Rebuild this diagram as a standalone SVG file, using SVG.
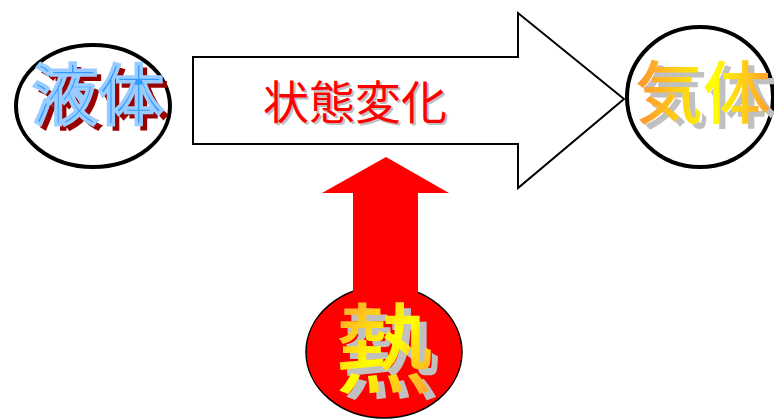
<svg xmlns="http://www.w3.org/2000/svg" width="774" height="419" viewBox="0 0 774 419">
<defs>
<linearGradient id="gGas" gradientUnits="userSpaceOnUse" x1="640" y1="0" x2="774" y2="0">
<stop offset="0" stop-color="#FF9933"/><stop offset="0.55" stop-color="#FFFF00"/><stop offset="1" stop-color="#FF9933"/>
</linearGradient>
<linearGradient id="gHeat" gradientUnits="userSpaceOnUse" x1="336" y1="300" x2="436" y2="395">
<stop offset="0" stop-color="#FF9933"/><stop offset="0.5" stop-color="#FFFF00"/><stop offset="1" stop-color="#FF9933"/>
</linearGradient>
</defs>
<style>
.t{font-family:"Noto Sans CJK JP","Noto Sans CJK SC",sans-serif;text-anchor:middle;font-weight:400}
.m{font-weight:500}
.sh{fill:#C0C0C0}
</style>
<g id="connectors">
<polygon id="state-arrow" points="193,57 518,57 518,13 624,99 518,188 518,144 193,144" fill="#FFFFFF" stroke="#000000" stroke-width="2"/>
<polygon id="heat-arrow" points="353,300 353,193 322,193 386,157 449,193 418,193 418,300" fill="#FF0000"/>
</g>
<g id="label-state">
<text class="t sh" x="357" y="121" font-size="46">状態変化</text>
<text class="t" x="355" y="119" font-size="46" fill="#FF0000">状態変化</text>
</g>
<g id="node-liquid">
<ellipse cx="93" cy="106" rx="77" ry="61" fill="#FFFFFF" stroke="#000000" stroke-width="4"/>
<text class="t" x="103" y="124" font-size="66" fill="#990000" stroke="#990000" stroke-width="2">液体</text>
<text class="t" x="98" y="119" font-size="66" fill="#3399FF" stroke="#99CCFF" stroke-width="3.5">液体</text>
</g>
<g id="node-gas">
<ellipse cx="700" cy="97" rx="73" ry="70" fill="#FFFFFF" stroke="#000000" stroke-width="4"/>
<text class="t m sh" x="709" y="123" font-size="68">気体</text>
<text class="t m" x="703" y="118" font-size="68" fill="url(#gGas)">気体</text>
</g>
<g id="node-heat">
<ellipse cx="384" cy="352" rx="78" ry="66" fill="#FF0000" stroke="#000000" stroke-width="1.5"/>
<rect x="353" y="280" width="65" height="25" fill="#FF0000"/>
<text class="t m sh" x="391" y="391" font-size="98">熱</text>
<text class="t m" x="384" y="385" font-size="98" fill="url(#gHeat)">熱</text>
</g>
</svg>
